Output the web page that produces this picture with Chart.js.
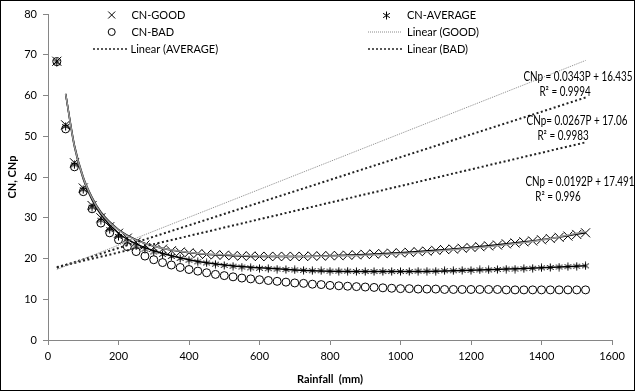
<!DOCTYPE html>
<html>
<head>
<meta charset="utf-8">
<script src="https://cdn.jsdelivr.net/npm/chart.js@4.4.1/dist/chart.umd.min.js"></script>
<style>
  html, body { margin: 0; padding: 0; background: #fff; }
</style>
</head>
<body>
<canvas id="chart" width="635" height="391"></canvas>
<script>
// rainfall (mm), one point every 25 mm
const rainfall = [
  25, 50, 75, 100, 125, 150, 175, 200, 225, 250, 275, 300, 325, 350, 375, 400,
  425, 450, 475, 500, 525, 550, 575, 600, 625, 650, 675, 700, 725, 750, 775, 800,
  825, 850, 875, 900, 925, 950, 975, 1000, 1025, 1050, 1075, 1100, 1125, 1150,
  1175, 1200, 1225, 1250, 1275, 1300, 1325, 1350, 1375, 1400, 1425, 1450, 1475,
  1500, 1525,
];

const cnGood = [
  68.4, 52.8, 43.5, 37.3, 33.0, 30.0, 27.8, 26.2, 25.0, 24.0, 23.3, 22.7, 22.3,
  21.9, 21.6, 21.4, 21.2, 21.0, 20.9, 20.8, 20.7, 20.6, 20.6, 20.5, 20.5, 20.5,
  20.5, 20.5, 20.5, 20.6, 20.6, 20.7, 20.7, 20.8, 20.9, 21.0, 21.1, 21.2, 21.3,
  21.4, 21.5, 21.7, 21.8, 22.0, 22.2, 22.3, 22.5, 22.7, 22.9, 23.1, 23.3, 23.6,
  23.8, 24.1, 24.3, 24.6, 24.9, 25.2, 25.5, 25.9, 26.3,
];

const cnAverage = [
  68.2, 52.4, 43.0, 36.9, 32.6, 29.4, 27.1, 25.4, 24.1, 23.1, 22.3, 21.6, 21.0,
  20.5, 20.0, 19.6, 19.2, 18.9, 18.6, 18.3, 18.1, 17.9, 17.7, 17.6, 17.5, 17.4,
  17.3, 17.2, 17.1, 17.0, 17.0, 16.9, 16.9, 16.9, 16.8, 16.8, 16.8, 16.8, 16.8,
  16.8, 16.8, 16.9, 16.9, 16.9, 17.0, 17.0, 17.1, 17.1, 17.2, 17.2, 17.3, 17.4,
  17.4, 17.5, 17.6, 17.7, 17.8, 17.9, 18.0, 18.1, 18.2,
];

const cnBad = [
  68.3, 51.8, 42.5, 36.4, 32.2, 28.7, 26.3, 24.6, 22.9, 21.7, 20.6, 19.7, 19.0,
  18.4, 17.8, 17.3, 16.9, 16.5, 16.1, 15.8, 15.5, 15.2, 15.0, 14.8, 14.6, 14.4,
  14.2, 14.0, 13.9, 13.7, 13.6, 13.4, 13.3, 13.2, 13.1, 13.0, 12.9, 12.8, 12.7,
  12.6, 12.6, 12.5, 12.5, 12.5, 12.4, 12.4, 12.4, 12.4, 12.4, 12.4, 12.4, 12.3,
  12.3, 12.3, 12.3, 12.3, 12.3, 12.3, 12.3, 12.3, 12.3,
];

// fitted CNp curves (start at 50 mm)
const fitRain = [50, 75, 100, 125, 150, 200, 250, 300, 400, 500, 600, 700, 800, 900, 1000, 1100, 1200, 1300, 1400, 1525];
const fitGood = [60.4, 47.8, 40.0, 35.0, 31.4, 27.1, 24.6, 23.0, 21.4, 20.8, 20.5, 20.5, 20.7, 21.0, 21.4, 22.0, 22.7, 23.6, 24.6, 26.3];
const fitGoodGrey = [60.4, 47.6, 39.8, 34.8, 31.2, 27.0, 24.5, 23.0, 21.5, 20.9, 20.6, 20.5, 20.6, 20.8, 21.2, 21.8, 22.5, 23.4, 24.5, 26.6];
const fitAverage = [60.4, 47.4, 39.5, 34.4, 30.8, 26.2, 23.6, 21.9, 19.7, 18.4, 17.7, 17.2, 16.9, 16.8, 16.8, 16.9, 17.1, 17.4, 17.7, 18.2];

// linear trendlines, values at the two ends
const trendRain = [25, 1525];
const linGood = [17.3, 68.6];
const linAverage = [17.7, 59.5];
const linBad = [17.9, 48.5];

const equations = [
  ["CNp = 0.0343P + 16.435", "R² = 0.9994"],
  ["CNp= 0.0267P + 17.06", "R² = 0.9983"],
  ["CNp = 0.0192P + 17.491", "R² = 0.996"],
];

const xTicks = [0, 200, 400, 600, 800, 1000, 1200, 1400, 1600];
const yTicks = [0, 10, 20, 30, 40, 50, 60, 70, 80];

const axisGrey = "#868686";
const baseFont = "Lato, 'Open Sans', sans-serif";

const toPoints = (xs, ys) => xs.map((x, i) => ({ x, y: ys[i] }));

// Excel style asterisk marker: a cross with a vertical bar
const makeStar = (size) => {
  const c = document.createElement("canvas");
  c.width = size;
  c.height = size;
  const s = c.getContext("2d");
  const m = size / 2;
  const r = m - 0.5;
  s.strokeStyle = "#000";
  s.lineWidth = 1;
  s.beginPath();
  s.moveTo(m, m - r);
  s.lineTo(m, m + r);
  s.moveTo(m - r * 0.85, m - r * 0.55);
  s.lineTo(m + r * 0.85, m + r * 0.55);
  s.moveTo(m + r * 0.85, m - r * 0.55);
  s.lineTo(m - r * 0.85, m + r * 0.55);
  s.stroke();
  return c;
};
const starMarker = makeStar(9);

const markerSet = (label, values, style, radius) => ({
  label,
  data: toPoints(rainfall, values),
  showLine: false,
  pointStyle: style,
  pointRadius: radius,
  pointBorderColor: "#000",
  pointBackgroundColor: "rgba(0,0,0,0)",
  pointBorderWidth: 1,
});

const curveSet = (label, values, color, width) => ({
  label,
  data: toPoints(fitRain, values),
  showLine: true,
  borderColor: color,
  borderWidth: width,
  pointRadius: 0,
  cubicInterpolationMode: "monotone",
});

const trendSet = (label, values, color, width, dash) => ({
  label,
  data: toPoints(trendRain, values),
  showLine: true,
  borderColor: color,
  borderWidth: width,
  borderDash: dash,
  pointRadius: 0,
});

const decorPlugin = {
  id: "decor",
  afterDraw(chart) {
    const ctx = chart.ctx;
    ctx.save();

    // outer frame
    ctx.strokeStyle = "#000";
    ctx.lineWidth = 1;
    ctx.strokeRect(0.5, 0.5, chart.width - 1, chart.height - 1);

    // legend, two columns
    const rows = [15, 32, 49];
    const cols = [
      { mark: 111.7, text: 131.5, lineFrom: 93, lineTo: 127 },
      { mark: 386.7, text: 407, lineFrom: 368, lineTo: 402 },
    ];
    ctx.font = "11px " + baseFont;
    ctx.fillStyle = "#000";
    ctx.textBaseline = "middle";
    ctx.textAlign = "left";

    // CN-GOOD
    ctx.strokeStyle = "#000";
    ctx.beginPath();
    ctx.moveTo(cols[0].mark - 3.5, rows[0] - 3.5);
    ctx.lineTo(cols[0].mark + 3.5, rows[0] + 3.5);
    ctx.moveTo(cols[0].mark + 3.5, rows[0] - 3.5);
    ctx.lineTo(cols[0].mark - 3.5, rows[0] + 3.5);
    ctx.stroke();
    ctx.fillText("CN-GOOD", cols[0].text, rows[0]);

    // CN-BAD
    ctx.beginPath();
    ctx.arc(cols[0].mark, rows[1], 3.5, 0, Math.PI * 2);
    ctx.stroke();
    ctx.fillText("CN-BAD", cols[0].text, rows[1]);

    // Linear (AVERAGE)
    ctx.setLineDash([2, 2]);
    ctx.lineWidth = 1.5;
    ctx.strokeStyle = "#222";
    ctx.beginPath();
    ctx.moveTo(cols[0].lineFrom, rows[2]);
    ctx.lineTo(cols[0].lineTo, rows[2]);
    ctx.stroke();
    ctx.fillText("Linear (AVERAGE)", cols[0].text - 1, rows[2]);

    // CN-AVERAGE
    ctx.setLineDash([]);
    ctx.drawImage(starMarker, Math.round(cols[1].mark - 4.5), Math.round(rows[0] - 4.5));
    ctx.fillText("CN-AVERAGE", cols[1].text, rows[0]);

    // Linear (GOOD)
    ctx.setLineDash([1, 1]);
    ctx.lineWidth = 1;
    ctx.strokeStyle = "#8a8a8a";
    ctx.beginPath();
    ctx.moveTo(cols[1].lineFrom, rows[1]);
    ctx.lineTo(cols[1].lineTo, rows[1]);
    ctx.stroke();
    ctx.fillText("Linear (GOOD)", cols[1].text, rows[1]);

    // Linear (BAD)
    ctx.setLineDash([2, 2]);
    ctx.lineWidth = 1.5;
    ctx.strokeStyle = "#222";
    ctx.beginPath();
    ctx.moveTo(cols[1].lineFrom, rows[2]);
    ctx.lineTo(cols[1].lineTo, rows[2]);
    ctx.stroke();
    ctx.fillText("Linear (BAD)", cols[1].text, rows[2]);
    ctx.setLineDash([]);

    // trendline equations, narrow like the original Calibri text
    const eqPos = [
      [578, 77, 565, 92],
      [577, 121, 563, 136],
      [580, 182, 558, 197],
    ];
    const squeeze = 0.79;
    ctx.font = "12.5px " + baseFont;
    ctx.textAlign = "center";
    equations.forEach((eq, i) => {
      const p = eqPos[i];
      ctx.save();
      ctx.scale(squeeze, 1);
      ctx.fillText(eq[0], p[0] / squeeze, p[1]);
      ctx.fillText(eq[1], p[2] / squeeze, p[3]);
      ctx.restore();
    });

    ctx.restore();
  },
};

new Chart(document.getElementById("chart"), {
  type: "scatter",
  data: {
    datasets: [
      trendSet("Linear (GOOD)", linGood, "#8a8a8a", 1, [1, 1]),
      trendSet("Linear (AVERAGE)", linAverage, "#222", 2, [2, 2.5]),
      trendSet("Linear (BAD)", linBad, "#222", 2, [2, 2.5]),
      curveSet("fit GOOD grey", fitGoodGrey, "#9a9a9a", 1.5),
      curveSet("fit GOOD", fitGood, "#000", 1.5),
      curveSet("fit AVERAGE", fitAverage, "#000", 1.5),
      markerSet("CN-GOOD", cnGood, "crossRot", 6.4),
      markerSet("CN-AVERAGE", cnAverage, starMarker, 4.5),
      markerSet("CN-BAD", cnBad, "circle", 4),
    ],
  },
  options: {
    responsive: false,
    animation: false,
    layout: { padding: { left: 0, right: 23, top: 14, bottom: 0 } },
    plugins: {
      legend: { display: false },
      tooltip: { enabled: false },
    },
    scales: {
      x: {
        type: "linear",
        min: 0,
        max: 1600,
        afterBuildTicks: (scale) => {
          scale.ticks = xTicks.map((value) => ({ value }));
        },
        afterFit: (scale) => {
          scale.height = 51;
        },
        grid: { drawOnChartArea: false, tickLength: 5, color: axisGrey },
        border: { color: axisGrey },
        ticks: {
          color: "#000",
          padding: 5,
          maxRotation: 0,
          font: { family: baseFont, size: 11 },
          callback: (value) => String(value),
        },
        title: {
          display: true,
          text: "Rainfall  (mm)",
          color: "#000",
          font: { family: baseFont, size: 11, weight: "bold" },
          padding: { top: 0, bottom: 4.5 },
        },
      },
      y: {
        type: "linear",
        min: 0,
        max: 80,
        afterBuildTicks: (scale) => {
          scale.ticks = yTicks.map((value) => ({ value }));
        },
        afterFit: (scale) => {
          scale.width = 48;
        },
        grid: { drawOnChartArea: false, tickLength: 5, color: axisGrey },
        border: { color: axisGrey },
        ticks: {
          color: "#000",
          padding: 6,
          font: { family: baseFont, size: 11 },
          callback: (value) => String(value),
        },
        title: {
          display: true,
          text: "CN, CNp",
          color: "#000",
          font: { family: baseFont, size: 11, weight: "bold" },
          padding: { top: 6, bottom: 0 },
        },
      },
    },
  },
  plugins: [decorPlugin],
});
</script>
</body>
</html>
